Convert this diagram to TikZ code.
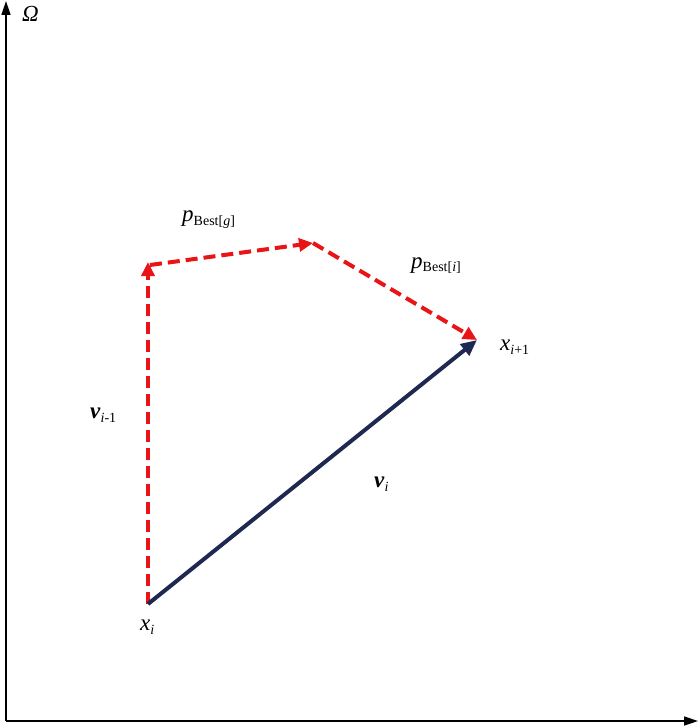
\documentclass[tikz,border=0pt]{standalone}
\usepackage{fontspec}
\setmainfont{Liberation Serif}
\usetikzlibrary{arrows.meta,calc}
\definecolor{vred}{RGB}{232,20,22}
\definecolor{vblue}{RGB}{30,40,80}
\newcommand{\subfs}{\fontsize{14}{16}\selectfont}
\begin{document}
\begin{tikzpicture}[x=1pt,y=-1pt,
  axis/.style={line width=1.6pt,black,-{Triangle[length=14pt,width=9pt]}},
  redarr/.style={line width=4pt,vred,dash pattern=on 12pt off 6pt,-{Triangle[length=14pt,width=13pt]}},
  bluearr/.style={line width=4pt,vblue,-{Triangle[length=16pt,width=14pt]}},
  lab/.style={inner sep=0pt,font=\fontsize{23}{26}\selectfont}]
\useasboundingbox (0,0) rectangle (700,727);
\coordinate (o) at (6,721);
\coordinate (ytop) at (6,1);
\coordinate (xend) at (698,721);
\draw[axis] (o) -- (ytop);
\draw[axis] (o) -- (xend);
\coordinate (xi) at (148,604);
\coordinate (a) at (148,262);
\coordinate (a2) at (150,265);
\coordinate (b) at (313,243);
\coordinate (xn) at (477,340);
\draw[redarr] (xi) -- (a);
\draw[redarr] (a2) -- (b);
\draw[redarr] (b) -- (xn);
\draw[bluearr] (xi) -- (xn);
\node[lab,anchor=base west] (om) at (22,22) {\textit{Ω}};
\node[lab,anchor=base west] (pg) at (182,222) {\textit{p}\raisebox{-0.3ex}{\subfs Best[\textit{g}]}};
\node[lab,anchor=base west] (pi) at (411,268) {\textit{p}\raisebox{-0.3ex}{\subfs Best[\textit{i}]}};
\node[lab,anchor=base west] (xnl) at (500,350) {\textit{x}\raisebox{-0.45ex}{\subfs\textit{i}+1}};
\node[lab,anchor=base west] (vim) at (90,418) {\textbf{\textit{v}}\raisebox{-0.45ex}{\subfs\textit{i}-1}};
\node[lab,anchor=base west] (vi) at (374,487) {\textbf{\textit{v}}\raisebox{-0.45ex}{\subfs\textit{i}}};
\node[lab,anchor=base west] (xil) at (140,630) {\textit{x}\raisebox{-0.45ex}{\subfs\textit{i}}};
\end{tikzpicture}
\end{document}
